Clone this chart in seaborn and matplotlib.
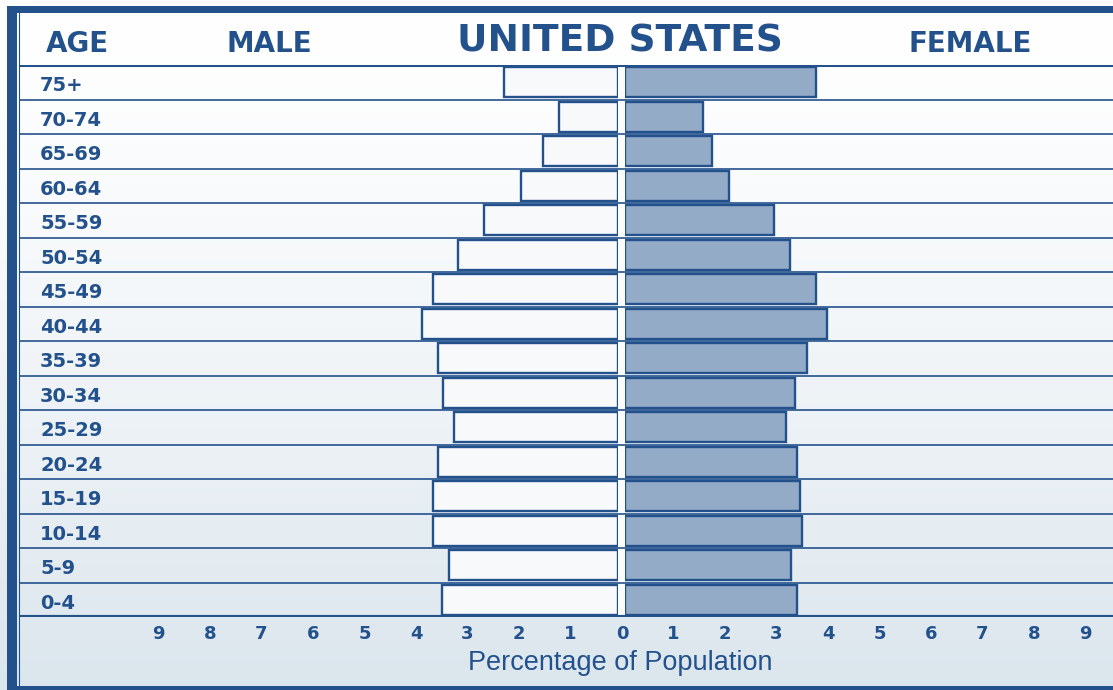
import numpy as np
import matplotlib
matplotlib.use("Agg")
import matplotlib.pyplot as plt
import seaborn as sns

AGES   = ["75+", "70-74", "65-69", "60-64", "55-59", "50-54", "45-49", "40-44",
          "35-39", "30-34", "25-29", "20-24", "15-19", "10-14", "5-9", "0-4"]
MALE   = [2.21, 1.15, 1.46, 1.88, 2.60, 3.11, 3.59, 3.81,
          3.50, 3.40, 3.18, 3.50, 3.59, 3.59, 3.28, 3.42]
FEMALE = [3.71, 1.51, 1.69, 2.02, 2.89, 3.20, 3.71, 3.92,
          3.53, 3.30, 3.13, 3.34, 3.40, 3.44, 3.22, 3.34]
TICKS  = list(range(-9, 10))

BLUE   = "#23518c"
FEMCOL = "#94abc8"
W, H   = 1113, 690
PX     = 51.5   # pixels per percent

sns.set_style("white")
plt.rcParams["font.family"] = ["DejaVu Sans"]

fig = plt.figure(figsize=(W / 100, H / 100), dpi=100)

def box(x0, y0, x1, y1):
    # pixel box (top-left origin) -> figure fraction rect
    return [x0 / W, 1 - y1 / H, (x1 - x0) / W, (y1 - y0) / H]

# background gradient: white at top, pale blue-grey at bottom
bg = fig.add_axes([0, 0, 1, 1], zorder=-5)
grad = np.linspace(0, 1, 256)[:, None] ** 1.4
c0 = np.array([1.0, 1.0, 1.0])
c1 = np.array([0.86, 0.90, 0.93])
img = c0 + (c1 - c0) * grad[..., None]
bg.imshow(np.repeat(img, 2, axis=1), aspect="auto", extent=[0, 1, 0, 1], origin="upper")
bg.set_xlim(0, 1)
bg.set_ylim(0, 1)
bg.axis("off")

# frame: thick left and top border, thin bottom line
bg.add_patch(plt.Rectangle((7 / W, 0), 10 / W, 1 - 6 / H, color=BLUE, lw=0))
bg.add_patch(plt.Rectangle((7 / W, 1 - 13 / H), 1, 7 / H, color=BLUE, lw=0))
bg.plot([19 / W, 19 / W], [0, 1 - 13 / H], color=BLUE, lw=0.8)
bg.add_patch(plt.Rectangle((7 / W, 0), 1, 4 / H, color=BLUE, lw=0))
# light strip between the two halves
bg.add_patch(plt.Rectangle((618 / W, 1 - 617 / H), 7 / W, 552 / H, color="#fbfcfd", lw=0))

# grid / ticks axis, 0 at x=622 px
grid = fig.add_axes(box(19, 65, W, 617), zorder=0)
grid.patch.set_alpha(0)
grid.set_xlim(-(622 - 19) / PX, (W - 622) / PX)
grid.set_ylim(16, 0)
for i in range(1, 16):
    grid.axhline(i, color=BLUE, lw=1.2)
grid.axhline(0, color=BLUE, lw=2.2)
grid.axhline(16, color=BLUE, lw=3)
grid.set_xticks(TICKS)
grid.set_xticklabels([str(abs(t)) for t in TICKS], fontsize=13, fontweight="bold", color=BLUE)
grid.tick_params(axis="x", length=0, pad=6)
grid.set_yticks([])
sns.despine(ax=grid, left=True, right=True, top=True, bottom=True)

for i, a in enumerate(AGES):
    grid.text(21 / (W - 19), i + 0.6, a, transform=grid.get_yaxis_transform(),
              ha="left", va="center", fontsize=14, fontweight="bold", color=BLUE)

# male bars (inverted axis), female bars
ax_m = fig.add_axes(box(19, 65, 618, 617), zorder=1)
ax_f = fig.add_axes(box(625, 65, W, 617), zorder=1)
sns.barplot(x=MALE, y=AGES, orient="h", color="#f8f9fb", saturation=1,
            edgecolor=BLUE, linewidth=1.7, width=0.88, ax=ax_m)
sns.barplot(x=FEMALE, y=AGES, orient="h", color=FEMCOL, saturation=1,
            edgecolor=BLUE, linewidth=1.7, width=0.88, ax=ax_f)
ax_m.set_xlim((618 - 19) / PX, 0)
ax_f.set_xlim(0, (W - 625) / PX)
for ax in (ax_m, ax_f):
    ax.patch.set_alpha(0)
    ax.set_xticks([])
    ax.set_yticks([])
    ax.set_xlabel("")
    ax.set_ylabel("")
    sns.despine(ax=ax, left=True, right=True, top=True, bottom=True)

# header and axis title
fig.text(77 / W, 1 - 44 / H, "AGE", ha="center", va="center",
         fontsize=20, fontweight="bold", color=BLUE)
fig.text(269 / W, 1 - 44 / H, "MALE", ha="center", va="center",
         fontsize=20, fontweight="bold", color=BLUE)
fig.text(970 / W, 1 - 44 / H, "FEMALE", ha="center", va="center",
         fontsize=20, fontweight="bold", color=BLUE)
fig.text(620 / W, 1 - 41 / H, "UNITED STATES", ha="center", va="center",
         fontsize=27, fontweight="bold", color=BLUE)
fig.text(620 / W, 1 - 663 / H, "Percentage of Population", ha="center", va="center",
         fontsize=19.5, color=BLUE, family=["Liberation Sans", "DejaVu Sans"])

fig.savefig("out.png", dpi=100)
